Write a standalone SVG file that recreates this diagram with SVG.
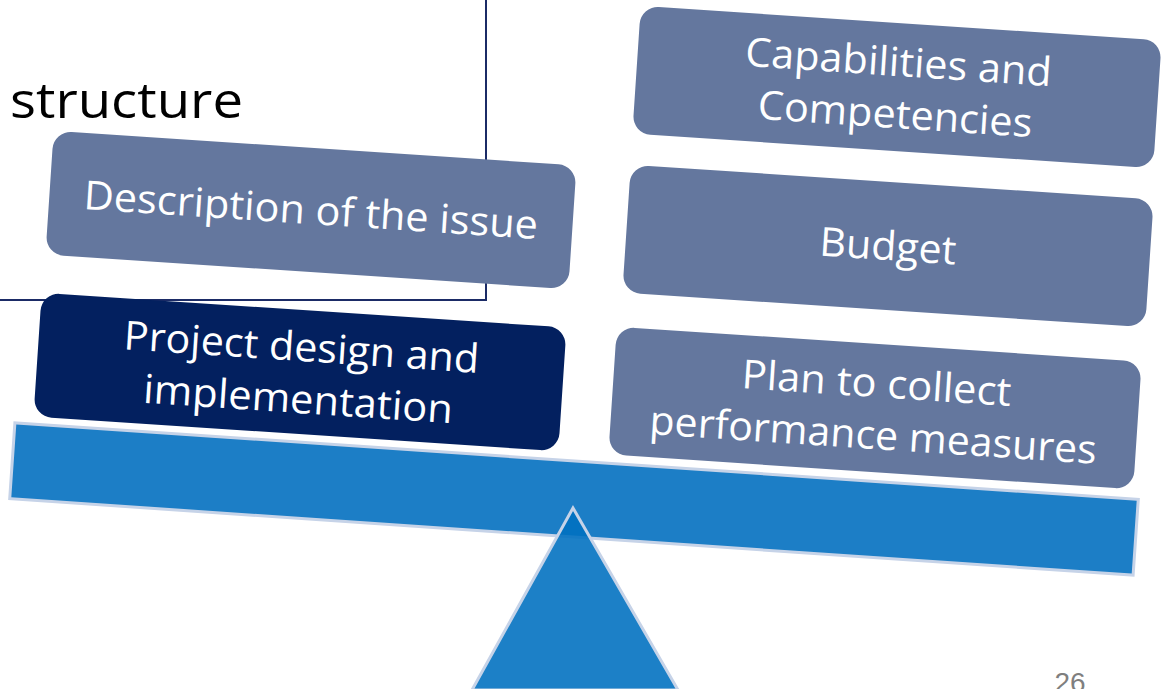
<svg xmlns="http://www.w3.org/2000/svg" width="1161" height="689" viewBox="0 0 1161 689">
<style>
.box{fill:#64779e;}
.dark{fill:#03205f;}
.lbl{font-family:"Open Sans","Liberation Sans",sans-serif;font-size:40px;fill:#ffffff;text-anchor:middle;}
.title{font-family:"Open Sans","Liberation Sans",sans-serif;font-size:50px;fill:#000000;}
</style>
<rect width="1161" height="689" fill="#ffffff"/>
<g id="frame">
<polyline points="0,300 486,300 486,0" fill="none" stroke="#1b2b66" stroke-width="2"/>
<text class="title" x="10" y="118" textLength="233" lengthAdjust="spacingAndGlyphs">structure</text>
</g>
<g id="description" transform="translate(311,210) rotate(3.8)">
<rect class="box" x="-262" y="-62" width="524" height="124" rx="18"/>
<text class="lbl" x="0" y="14" textLength="455" lengthAdjust="spacingAndGlyphs">Description of the issue</text>
</g>
<g id="project" transform="translate(300,372) rotate(3.8)">
<rect class="dark" x="-263" y="-62" width="526" height="124" rx="18"/>
<text class="lbl" x="0" y="-11" textLength="356" lengthAdjust="spacingAndGlyphs">Project design and</text>
<text class="lbl" x="0" y="41" textLength="310" lengthAdjust="spacingAndGlyphs">implementation</text>
</g>
<g id="capabilities" transform="translate(897,87) rotate(3.8)">
<rect class="box" x="-261" y="-64" width="522" height="128" rx="18"/>
<text class="lbl" x="0" y="-11" textLength="307" lengthAdjust="spacingAndGlyphs">Capabilities and</text>
<text class="lbl" x="0" y="41" textLength="275" lengthAdjust="spacingAndGlyphs">Competencies</text>
</g>
<g id="budget" transform="translate(888,246) rotate(3.8)">
<rect class="box" x="-262" y="-64" width="524" height="128" rx="18"/>
<text class="lbl" x="0" y="14" textLength="137" lengthAdjust="spacingAndGlyphs">Budget</text>
</g>
<g id="plan" transform="translate(875,408) rotate(3.8)">
<rect class="box" x="-263" y="-64" width="526" height="128" rx="18"/>
<text class="lbl" x="0" y="-11" textLength="270" lengthAdjust="spacingAndGlyphs">Plan to collect</text>
<text class="lbl" x="0" y="41" textLength="448" lengthAdjust="spacingAndGlyphs">performance measures</text>
</g>
<g id="beam" transform="translate(574,499) rotate(3.9)">
<rect x="-563" y="-38" width="1126" height="76" fill="#1c7ec6" stroke="#c6d3e8" stroke-width="3"/>
</g>
<g id="fulcrum">
<polygon points="573,508 472,690 678,690" fill="#0070c0" fill-opacity="0.89" stroke="#c6d3e8" stroke-width="3"/>
</g>
<g id="connectors"></g>
<text x="1070" y="692" font-family="Liberation Sans, sans-serif" font-size="28" fill="#7f7f7f" text-anchor="middle">26</text>
</svg>
